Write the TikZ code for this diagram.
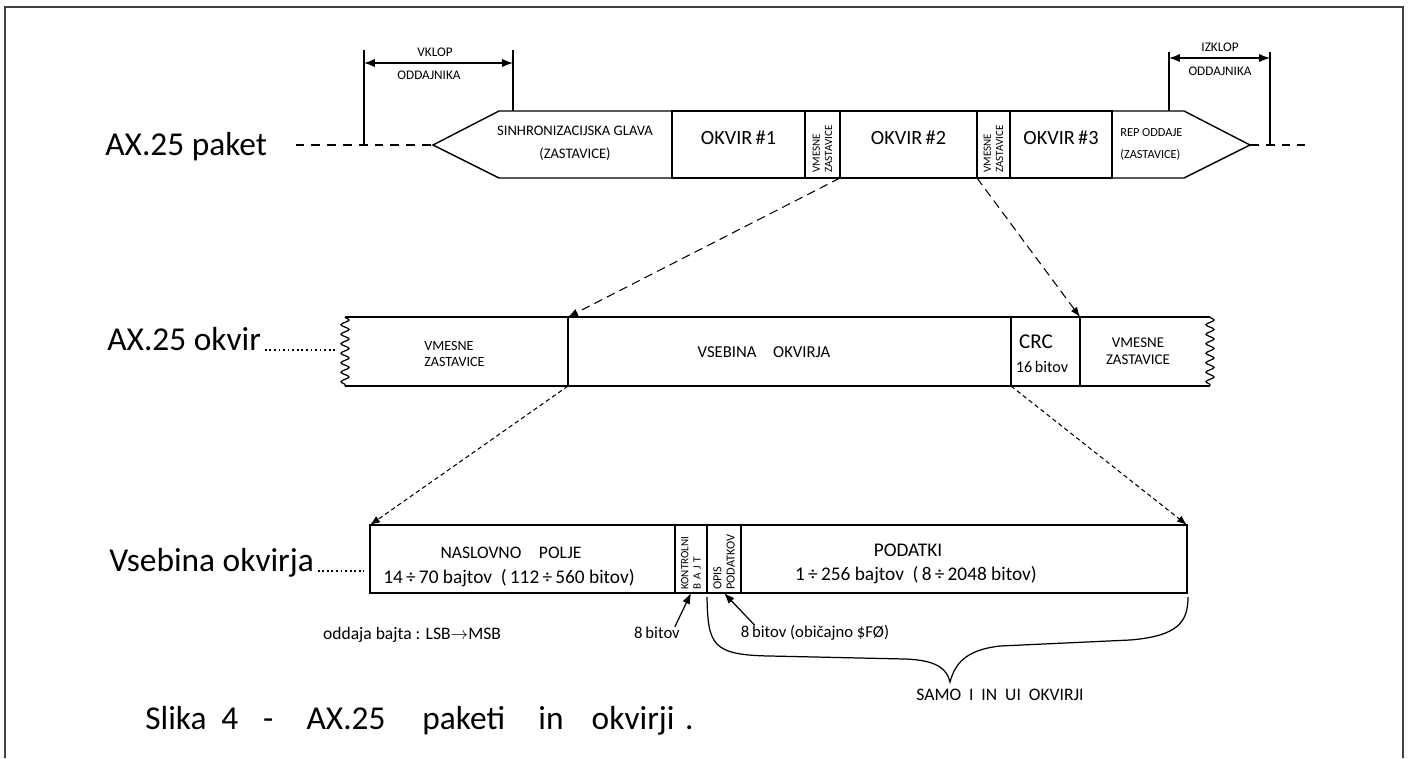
\documentclass[tikz,border=0pt]{standalone}
\usepackage{fontspec}
\setmainfont{Carlito}
\usetikzlibrary{arrows.meta,positioning,fit,calc,decorations.pathmorphing}

\begin{document}
\begin{tikzpicture}[x=0.02cm,y=-0.02cm,>=Latex,
  field/.style={draw,line width=.8pt,inner sep=0pt,outer sep=0pt},
  hidden/.style={inner sep=0pt,outer sep=0pt},
  big/.style={font=\fontsize{19}{21}\selectfont,anchor=base west,inner sep=0pt},
  caps/.style={font=\fontsize{8}{10}\selectfont,align=center,inner sep=0pt},
  vert/.style={rotate=90,anchor=west,align=left,inner sep=0pt,font=\fontsize{6}{6.8}\selectfont},
  zoomline/.style={->,dash pattern=on 5pt off 3pt,line width=.6pt},
  zoomfine/.style={->,dash pattern=on 2.5pt off 1.8pt,line width=.6pt},
  leader/.style={dash pattern=on 1pt off 1.6pt,line width=1.1pt},
  wavy/.style={decorate,decoration={snake,amplitude=.8mm,segment length=1.9mm}},
  note/.style={font=\fontsize{9.5}{11}\selectfont,inner sep=0pt},
  dim/.style={line width=.7pt}]
\useasboundingbox (0,0) rectangle (1412,758);
\draw[line width=1pt,black!75] (5,758) -- (5,7) -- (1403,7) -- (1403,758);

% AX.25 paket
\node[big] (lblpaket) at (105,155) {AX.25 paket};
\node[field,font=\fontsize{11.5}{13}\selectfont,fit={(672,111) (805,178)}] (okvir1) {OKVIR\,\#1};
\node[field,fit={(805,111) (840,178)}] (vm1) {};
\node[field,font=\fontsize{11.5}{13}\selectfont,fit={(840,111) (977,178)}] (okvir2) {OKVIR\,\#2};
\node[field,fit={(977,111) (1010,178)}] (vm2) {};
\node[field,font=\fontsize{11.5}{13}\selectfont,fit={(1010,111) (1112,178)}] (okvir3) {OKVIR\,\#3};
\coordinate (tipL) at (433,145);
\coordinate (tipR) at (1250,145);
\coordinate (endR) at (1305,145);
\draw[line width=.8pt] (okvir1.north west) -- (499,111) -- (tipL) -- (499,178) -- (okvir1.south west);
\draw[line width=.8pt] (okvir3.north east) -- (1184,111) -- (tipR) -- (1184,178) -- (okvir3.south east);
\draw[dim,dash pattern=on 5pt off 4pt] ([xshift=16pt]tipL -| lblpaket.east) -- (tipL);
\draw[dim,dash pattern=on 5pt off 4pt] (tipR) -- (endR);
\node[caps,font=\fontsize{8.3}{13}\selectfont] (glava) at (575,143) {SINHRONIZACIJSKA GLAVA\\(ZASTAVICE)};
\node[vert,font=\fontsize{6.3}{7}\selectfont] (vm1txt) at (822.5,173) {VMESNE\\ZASTAVICE};
\node[vert,font=\fontsize{6.3}{7}\selectfont] (vm2txt) at (993.5,173) {VMESNE\\ZASTAVICE};
\node[caps,font=\fontsize{7}{12.5}\selectfont,align=left,anchor=west] (rep) at (1120,144) {REP ODDAJE\\(ZASTAVICE)};

% vklop / izklop
\coordinate (vkA) at (364,50);
\coordinate (vkB) at (513,50);
\draw[dim] (vkA) -- (vkA |- tipL);
\draw[dim] (vkB) -- (vkB |- okvir1.north);
\draw[dim,<->] ($(vkA)+(0,13)$) -- ($(vkB)+(0,13)$);
\node[caps,font=\fontsize{7.5}{9}\selectfont] (vklop) at (435,52) {VKLOP};
\node[caps,font=\fontsize{7.5}{9}\selectfont] (vklopb) at (429,75) {ODDAJNIKA};
\coordinate (izA) at (1169,52);
\coordinate (izB) at (1270,52);
\draw[dim] (izA) -- (izA |- okvir3.north);
\draw[dim] (izB) -- (izB |- tipR);
\draw[dim,<->] ($(izA)+(0,6)$) -- ($(izB)+(0,6)$);
\node[caps,font=\fontsize{7.5}{9}\selectfont] (izklop) at (1220,47) {IZKLOP};
\node[caps,font=\fontsize{7.5}{9}\selectfont] (izklopb) at (1220,71) {ODDAJNIKA};

% AX.25 okvir
\node[big] (lblokvir) at (107,350) {AX.25 okvir};
\node[hidden,fit={(345,317) (568,386)}] (vmL) {};
\node[field,fit={(568,317) (1011,386)}] (vsebina) {};
\node[field,fit={(1011,317) (1080,386)}] (crc) {};
\node[hidden,fit={(1080,317) (1210,386)}] (vmR) {};
\draw[line width=.8pt] (vmL.north west) -- (vmR.north east);
\draw[line width=.8pt] (vmL.south west) -- (vmR.south east);
\draw[dim,wavy] (vmL.north west) -- (vmL.south west);
\draw[dim,wavy] (vmR.north east) -- (vmR.south east);
\draw[leader] ([xshift=2pt]lblokvir.base east) -- ($(vmL.west |- lblokvir.base)+(-10,0)$);
\node[caps,align=left,anchor=west,font=\fontsize{8}{9.6}\selectfont] (vmLtxt) at (424,354) {VMESNE\\ZASTAVICE};
\node[caps,font=\fontsize{9.5}{11}\selectfont] (vsebtxt) at (764,352) {VSEBINA\quad OKVIRJA};
\node[caps,font=\fontsize{12}{14}\selectfont] (crctxt) at (1036,342) {CRC};
\node[caps,font=\fontsize{9.2}{12}\selectfont] (crcbit) at (1042,367) {16\,bitov};
\node[caps,font=\fontsize{8.5}{9.6}\selectfont] (vmRtxt) at (1138,351) {VMESNE\\ZASTAVICE};

\draw[zoomline] (vm1.south east) -- (vsebina.north west);
\draw[zoomline] (vm2.south west) -- (crc.north east);

% vsebina okvirja
\node[big] (lblvseb) at (109,571) {Vsebina okvirja};
\node[field,fit={(370,525) (675,593)}] (naslov) {};
\node[field,fit={(675,525) (707,593)}] (kontr) {};
\node[field,fit={(707,525) (741,593)}] (opis) {};
\node[field,fit={(741,525) (1187,593)}] (podatki) {};
\draw[leader] ([xshift=2pt]lblvseb.base east) -- ($(naslov.west |- lblvseb.base)+(-6,0)$);
\node[caps,font=\fontsize{10}{12}\selectfont] (nastxt) at (511,553) {NASLOVNO\quad POLJE};
\node[caps,font=\fontsize{11}{13}\selectfont] (nasbit) at (509,578) {14\,÷\,70 bajtov \ (\,112\,÷\,560 bitov)};
\node[vert,font=\fontsize{6.3}{7}\selectfont] (kontrtxt) at (691,590) {KONTROLNI\\B\,\,A\,\,J\,\,T};
\node[vert,font=\fontsize{7}{7.5}\selectfont] (opistxt) at (724,590) {OPIS\\PODATKOV};
\node[caps,font=\fontsize{11}{13}\selectfont] (podtxt) at (908,550) {PODATKI};
\node[caps,font=\fontsize{11}{13}\selectfont] (podbit) at (916,575) {1\,÷\,256 bajtov \ (\,8\,÷\,2048 bitov)};

\draw[zoomfine] (vsebina.south west) -- (naslov.north west);
\draw[zoomfine] (crc.south west) -- (podatki.north east);

% opombe
\node[note,font=\fontsize{10}{12}\selectfont] (oddaja) at (412,635) {oddaja bajta : LSB$\rightarrow$MSB};
\node[note] (bit8a) at (657,633) {8\,bitov};
\node[note] (bit8b) at (815,633) {8\,bitov (običajno \$FØ)};
\draw[dim,->] ([xshift=-3pt]bit8a.north east) -- (kontr.south);
\draw[dim,->] ([xshift=8pt]bit8b.north west) -- (opis.south);
\coordinate (braceTip) at (950,682);
\draw[dim] (opis.south west) ++(0,4) .. controls (708,645) and (712,655) .. (770,656) -- (905,659) .. controls (935,660) and (947,668) .. (braceTip) .. controls (955,664) and (965,650) .. (1000,646) -- (1130,640) .. controls (1178,636) and (1188,622) .. (1188,597);
\node[note,font=\fontsize{10}{12}\selectfont] (samo) at (1000,695) {SAMO\ \ I\ \ IN\ \ UI\ \ OKVIRJI};

\node[anchor=base west,inner sep=0pt,font=\fontsize{19}{21}\selectfont] (slika) at (145,729) {Slika\hspace{8.5pt}4\hspace{14pt}-\hspace{19pt}AX.25\hspace{21pt}paketi\hspace{19pt}in\hspace{16pt}okvirji\hspace{6pt}.};
\end{tikzpicture}
\end{document}
